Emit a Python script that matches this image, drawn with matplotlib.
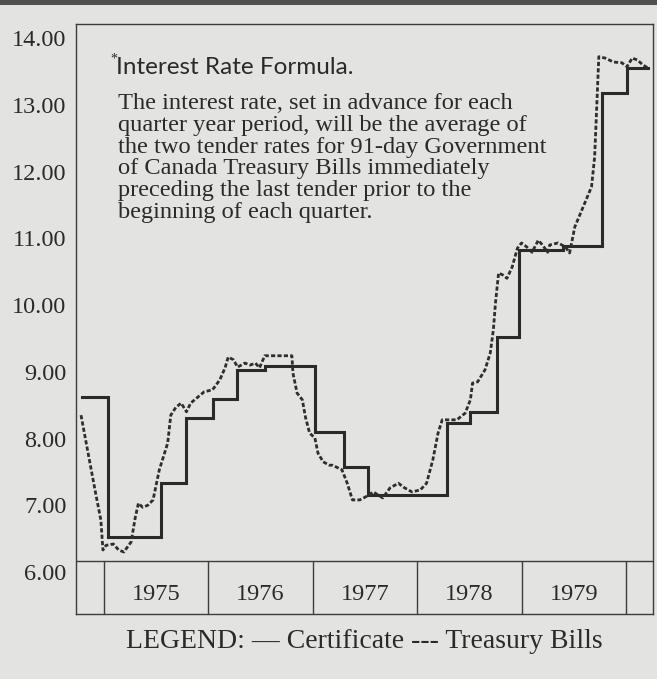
import matplotlib
matplotlib.use("Agg")
import matplotlib.pyplot as plt
from matplotlib.patches import Rectangle

# ---------------- data ----------------
cert_dates = [1974.79, 1975.04, 1975.55, 1975.79, 1976.04, 1976.27, 1976.54,
              1977.02, 1977.30, 1977.53, 1978.29, 1978.51, 1978.76, 1978.98,
              1979.40, 1979.77, 1980.01, 1980.21]
cert_rates = [8.62, 6.52, 7.33, 8.31, 8.59, 9.03, 9.09,
              8.10, 7.57, 7.15, 8.23, 8.40, 9.52, 10.82,
              10.88, 13.18, 13.55, 13.55]

tb_dates = [1974.78, 1974.86, 1974.92, 1974.97, 1974.99, 1975.02, 1975.09, 1975.14,
            1975.19, 1975.26, 1975.30, 1975.33, 1975.37, 1975.42, 1975.47, 1975.53,
            1975.61, 1975.64, 1975.69, 1975.74, 1975.79, 1975.83, 1975.96, 1976.04,
            1976.11, 1976.16, 1976.19, 1976.24, 1976.28, 1976.35, 1976.40, 1976.45,
            1976.49, 1976.54, 1976.80, 1976.81, 1976.85, 1976.90, 1976.93, 1976.97,
            1977.02, 1977.05, 1977.10, 1977.16, 1977.19, 1977.28, 1977.33, 1977.38,
            1977.45, 1977.50, 1977.58, 1977.67, 1977.74, 1977.82, 1977.88, 1977.95,
            1978.03, 1978.09, 1978.15, 1978.20, 1978.24, 1978.29, 1978.38, 1978.46,
            1978.51, 1978.53, 1978.58, 1978.65, 1978.70, 1978.73, 1978.75, 1978.78,
            1978.82, 1978.86, 1978.91, 1978.96, 1979.00, 1979.05, 1979.10, 1979.16,
            1979.20, 1979.25, 1979.27, 1979.35, 1979.42, 1979.46, 1979.51, 1979.59,
            1979.67, 1979.70, 1979.72, 1979.74, 1979.80, 1979.88, 1979.96, 1980.01,
            1980.06, 1980.11, 1980.16, 1980.21]
tb_rates = [8.35, 7.68, 7.18, 6.78, 6.33, 6.40, 6.42, 6.33,
            6.30, 6.45, 6.82, 7.03, 6.97, 7.00, 7.08, 7.53,
            7.93, 8.35, 8.47, 8.53, 8.40, 8.53, 8.70, 8.73,
            8.88, 9.06, 9.22, 9.18, 9.07, 9.13, 9.10, 9.13,
            9.06, 9.24, 9.24, 8.98, 8.68, 8.58, 8.32, 8.08,
            8.01, 7.78, 7.65, 7.60, 7.60, 7.53, 7.33, 7.08,
            7.08, 7.12, 7.20, 7.11, 7.26, 7.33, 7.26, 7.20,
            7.23, 7.33, 7.68, 8.08, 8.28, 8.28, 8.28, 8.38,
            8.58, 8.83, 8.85, 9.03, 9.28, 9.63, 10.03, 10.48,
            10.45, 10.40, 10.57, 10.85, 10.93, 10.87, 10.79, 10.97,
            10.90, 10.79, 10.90, 10.93, 10.87, 10.78, 11.17, 11.47,
            11.77, 12.22, 12.97, 13.72, 13.70, 13.64, 13.63, 13.57,
            13.70, 13.67, 13.60, 13.55]

years = [1975, 1976, 1977, 1978, 1979]
year_edges = [1975, 1976, 1977, 1978, 1979, 1980]
ytick_values = [6, 7, 8, 9, 10, 11, 12, 13, 14]
ytick_labels = ["6.00", "7.00", "8.00", "9.00", "10.00", "11.00", "12.00", "13.00", "14.00"]

note_title = "Interest Rate Formula."
note_lines = [
    "The interest rate, set in advance for each",
    "quarter year period, will be the average of",
    "the two tender rates for 91-day Government",
    "of Canada Treasury Bills immediately",
    "preceding the last tender prior to the",
    "beginning of each quarter.",
]
legend_text = "LEGEND: \u2014 Certificate --- Treasury Bills"

# ---------------- figure ----------------
W, H = 657, 679
bg = "#e3e3e1"
ink = "#2a2a2a"
serif = ["Liberation Serif", "DejaVu Serif"]

fig = plt.figure(figsize=(W / 100, H / 100), dpi=100)
fig.patch.set_facecolor(bg)
# dark scan edge at the top
fig.patches.append(Rectangle((0, 1 - 5 / H), 1, 5 / H, transform=fig.transFigure,
                             facecolor="#505050", edgecolor="none"))

ax = fig.add_axes([76 / W, 1 - 614 / H, (653 - 76) / W, (614 - 24) / H])
ax.set_facecolor(bg)
ax.set_xlim(1974.732, 1980.259)
ax.set_ylim(5.371, 14.21)
band_top = 6.165

for s in ax.spines.values():
    s.set_color("#3c3c3c")
    s.set_linewidth(1.0)

ax.set_xticks([])
ax.set_yticks(ytick_values)
ax.set_yticklabels(ytick_labels, fontfamily=serif, fontsize=17.5, color=ink)
ax.tick_params(axis="y", length=0, pad=7)

# year band
ax.axhline(band_top, color="#3c3c3c", lw=1.0)
ax.vlines(year_edges, ax.get_ylim()[0], band_top, color="#3c3c3c", lw=1.0)
for y in years:
    ax.text(y + 0.5, 5.58, str(y), ha="center", va="baseline",
            fontfamily=serif, fontsize=17.5, color=ink)

# series
ax.plot(cert_dates, cert_rates, drawstyle="steps-post", color="#2a2a2a",
        lw=2.2, solid_joinstyle="miter")
ax.plot(tb_dates, tb_rates, color="#2e2e2e", lw=2.0, linestyle=(0, (1.5, 0.8)))

# note
fig.text(110 / W, 1 - 63 / H, "*", fontfamily=serif, fontsize=10, color=ink,
         va="baseline", ha="left")
fig.text(116 / W, 1 - 74 / H, note_title, fontfamily=["Lato", "DejaVu Sans"],
         fontsize=17.5, color=ink, va="baseline", ha="left")
for i, line in enumerate(note_lines):
    fig.text(118 / W, 1 - (109 + 21.8 * i) / H, line, fontfamily=serif,
             fontsize=17.6, color=ink, va="baseline", ha="left")

# legend
fig.text(364 / W, 1 - 648 / H, legend_text, fontfamily=serif, fontsize=20,
         color=ink, va="baseline", ha="center")

fig.savefig("out.png", dpi=100, facecolor=bg)
